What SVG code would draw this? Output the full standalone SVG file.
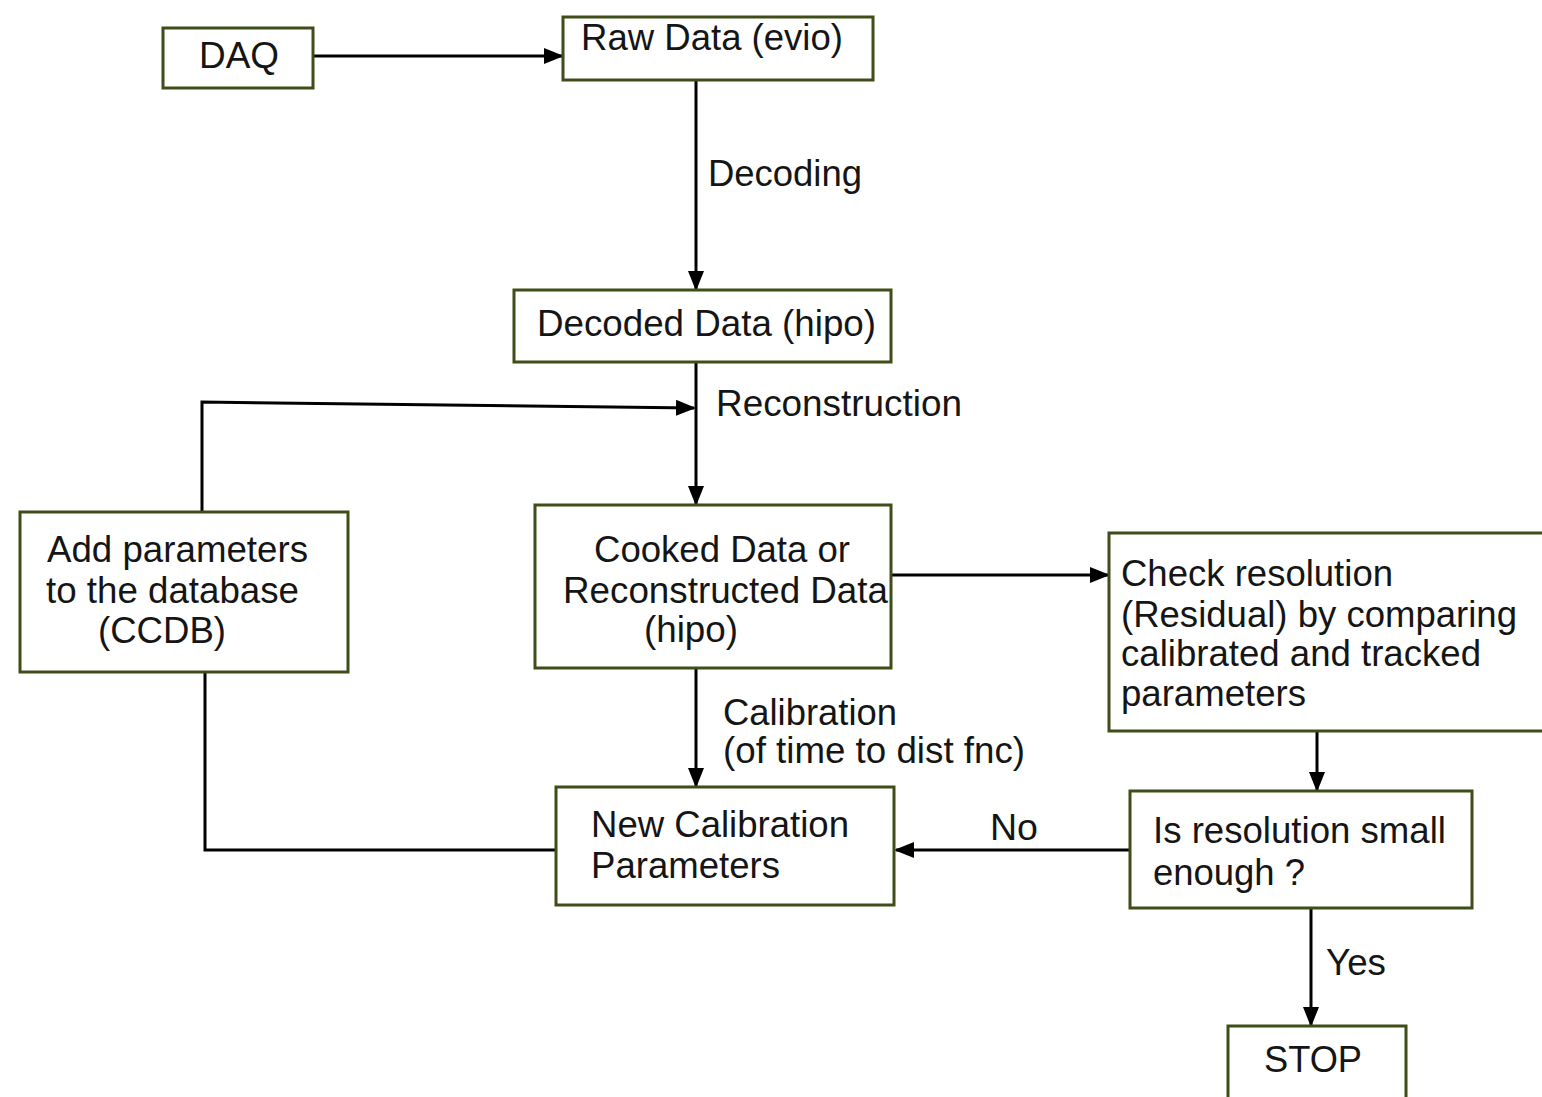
<svg xmlns="http://www.w3.org/2000/svg" width="1542" height="1097" viewBox="0 0 1542 1097">
<style>
.box{fill:#fff;stroke:#3f4d18;stroke-width:3}
.t{font-family:"Liberation Sans",Arial,sans-serif;font-size:36px;fill:#151515}
.c{fill:none;stroke:#000;stroke-width:3}
</style>
<defs>
<marker id="ah" markerUnits="userSpaceOnUse" markerWidth="20" markerHeight="16" refX="18" refY="8" orient="auto">
<path d="M0,0 L20,8 L0,16 Z" fill="#000"/>
</marker>
</defs>
<rect width="1542" height="1097" fill="#fff"/>
<g id="connectors">
<line class="c" x1="313" y1="56" x2="562" y2="56" marker-end="url(#ah)"/>
<line class="c" x1="696" y1="80" x2="696" y2="289" marker-end="url(#ah)"/>
<line class="c" x1="696" y1="362" x2="696" y2="504" marker-end="url(#ah)"/>
<polyline class="c" points="202,512 202,402 694,408" marker-end="url(#ah)"/>
<line class="c" x1="891" y1="575" x2="1108" y2="575" marker-end="url(#ah)"/>
<line class="c" x1="696" y1="668" x2="696" y2="786" marker-end="url(#ah)"/>
<line class="c" x1="1317" y1="731" x2="1317" y2="790" marker-end="url(#ah)"/>
<line class="c" x1="1130" y1="850" x2="896" y2="850" marker-end="url(#ah)"/>
<polyline class="c" points="556,850 205,850 205,672"/>
<line class="c" x1="1311" y1="908" x2="1311" y2="1025" marker-end="url(#ah)"/>
<text class="t" x="708" y="186" textLength="154" lengthAdjust="spacingAndGlyphs">Decoding</text>
<text class="t" x="716" y="416" textLength="246" lengthAdjust="spacingAndGlyphs">Reconstruction</text>
<text class="t" x="723" y="725" textLength="174" lengthAdjust="spacingAndGlyphs">Calibration</text>
<text class="t" x="723" y="763" textLength="302" lengthAdjust="spacingAndGlyphs">(of time to dist fnc)</text>
<text class="t" x="990" y="840" textLength="48" lengthAdjust="spacingAndGlyphs">No</text>
<text class="t" x="1326" y="975" textLength="60" lengthAdjust="spacingAndGlyphs">Yes</text>
</g>
<g id="daq">
<rect class="box" x="163" y="28" width="150" height="60"/>
<text class="t" x="199" y="68" textLength="80" lengthAdjust="spacingAndGlyphs">DAQ</text>
</g>
<g id="raw">
<rect class="box" x="563" y="17" width="310" height="63"/>
<text class="t" x="581" y="50" textLength="262" lengthAdjust="spacingAndGlyphs">Raw Data (evio)</text>
</g>
<g id="decoded">
<rect class="box" x="514" y="290" width="377" height="72"/>
<text class="t" x="537" y="336" textLength="339" lengthAdjust="spacingAndGlyphs">Decoded Data (hipo)</text>
</g>
<g id="cooked">
<rect class="box" x="535" y="505" width="356" height="163"/>
<text class="t" x="594" y="562" textLength="256" lengthAdjust="spacingAndGlyphs">Cooked Data or</text>
<text class="t" x="563" y="603" textLength="325" lengthAdjust="spacingAndGlyphs">Reconstructed Data</text>
<text class="t" x="644" y="642" textLength="94" lengthAdjust="spacingAndGlyphs">(hipo)</text>
</g>
<g id="addparams">
<rect class="box" x="20" y="512" width="328" height="160"/>
<text class="t" x="47" y="562" textLength="261" lengthAdjust="spacingAndGlyphs">Add parameters</text>
<text class="t" x="46" y="603" textLength="253" lengthAdjust="spacingAndGlyphs">to the database</text>
<text class="t" x="98" y="643" textLength="128" lengthAdjust="spacingAndGlyphs">(CCDB)</text>
</g>
<g id="check">
<rect class="box" x="1109" y="533" width="440" height="198"/>
<text class="t" x="1121" y="586" textLength="272" lengthAdjust="spacingAndGlyphs">Check resolution</text>
<text class="t" x="1121" y="627" textLength="396" lengthAdjust="spacingAndGlyphs">(Residual) by comparing</text>
<text class="t" x="1121" y="666" textLength="360" lengthAdjust="spacingAndGlyphs">calibrated and tracked</text>
<text class="t" x="1121" y="706" textLength="185" lengthAdjust="spacingAndGlyphs">parameters</text>
</g>
<g id="newcal">
<rect class="box" x="556" y="787" width="338" height="118"/>
<text class="t" x="591" y="837" textLength="258" lengthAdjust="spacingAndGlyphs">New Calibration</text>
<text class="t" x="591" y="878" textLength="189" lengthAdjust="spacingAndGlyphs">Parameters</text>
</g>
<g id="isres">
<rect class="box" x="1130" y="791" width="342" height="117"/>
<text class="t" x="1153" y="843" textLength="293" lengthAdjust="spacingAndGlyphs">Is resolution small</text>
<text class="t" x="1153" y="885" textLength="152" lengthAdjust="spacingAndGlyphs">enough ?</text>
</g>
<g id="stop">
<rect class="box" x="1228" y="1026" width="178" height="90"/>
<text class="t" x="1264" y="1072" textLength="98" lengthAdjust="spacingAndGlyphs">STOP</text>
</g>
</svg>
